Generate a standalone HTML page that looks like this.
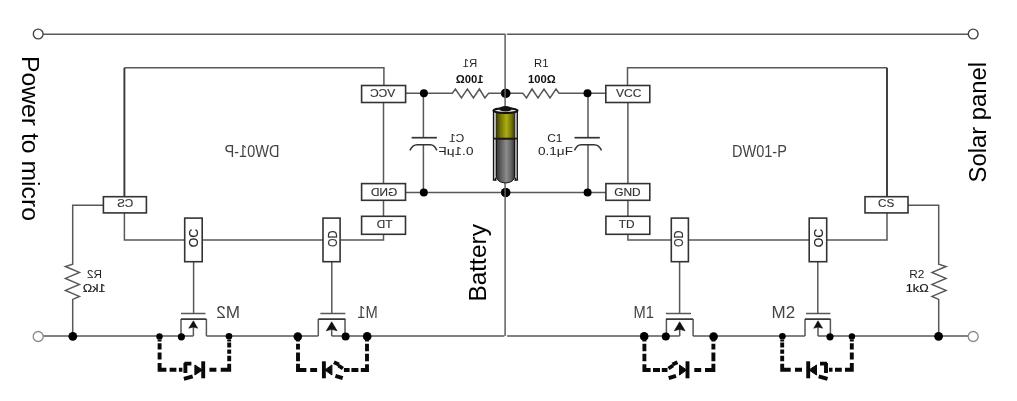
<!DOCTYPE html>
<html><head><meta charset="utf-8">
<style>
html,body{margin:0;padding:0;background:#fff;width:1017px;height:401px;overflow:hidden}
svg{display:block;filter:blur(0.4px)}
text{font-family:"Liberation Sans",sans-serif}
</style></head>
<body>
<svg width="1017" height="401" viewBox="0 0 1017 401">
<defs>
<linearGradient id="gy" x1="0" x2="1" y1="0" y2="0">
<stop offset="0" stop-color="#3e3e00"/>
<stop offset="0.2" stop-color="#6e6e08"/>
<stop offset="0.55" stop-color="#acac14"/>
<stop offset="0.8" stop-color="#7a7a06"/>
<stop offset="1" stop-color="#3e3e00"/>
</linearGradient>
<linearGradient id="gg" x1="0" x2="1" y1="0" y2="0">
<stop offset="0" stop-color="#333"/>
<stop offset="0.25" stop-color="#5e5e5e"/>
<stop offset="0.55" stop-color="#8c8c8c"/>
<stop offset="0.8" stop-color="#666"/>
<stop offset="1" stop-color="#333"/>
</linearGradient>
<g id="half">
<!-- wires -->
<g fill="none" stroke="#585858" stroke-width="1.5">
<path d="M506,34.2H968.2"/>
<path d="M507,335.9H679.7M693.1,335.9H805M818,335.9H968.4"/>
<path d="M627.5,85.5V67.8H887"/>
<path d="M887,213V240H826.7M809.2,240H688.4M671.3,240H627.9V234.3"/>
<path d="M627.9,216.3V200.3M627.9,183.6V102.5"/>
<path d="M505,93.3H522.8L526.5,98L532,89L538,98L544,89L550,98L556,89L559,93.3H605.8"/>
<path d="M505,192.6H605.9"/>
<path d="M588,93.3V137.7M588,144.7V192.6"/>
<path d="M908,205.3H938.7V264.2L946,266.5L932,272.4L946,278.4L932,284.4L946,290.4L932,296.4L938.7,299.4V335.9"/>
<path d="M679.6,261.7V313.4M817.8,261.7V313.4"/>
<path d="M666,313.6H691M806,313.4H830.4"/>
<path d="M666.4,335.9V319.1M693.1,335.9V319.1M679.7,335.9V323M805,335.9V319.1M830.4,335.9V319.1M818,335.9V322"/>
</g>
<path d="M574.5,137.7H599.8" stroke="#333" stroke-width="1.7" fill="none"/>
<path d="M574.5,150.4Q577,144.7 581,144.7H594Q599,144.7 601.5,150.4" stroke="#333" stroke-width="1.5" fill="none"/>
<path d="M666,319.1H693.1M805,319.1H830.4" stroke="#3a3a3a" stroke-width="1.7" fill="none"/>
<path d="M679.7,321.8L674.3,330.8L679.7,329.3L685.1,330.8Z" fill="#111" stroke="#111" stroke-width="0.6" stroke-linejoin="round"/>
<path d="M818,320.8L813.8,328.2L818,327L822.6,328.2Z" fill="#111" stroke="#111" stroke-width="0.6" stroke-linejoin="round"/>
<path d="M887,67.8V196.7" stroke="#383838" stroke-width="1.9" fill="none"/>
<!-- IC boxes -->
<g fill="#fff" stroke="#333" stroke-width="1.6">
<rect x="605.8" y="85.5" width="44" height="17"/>
<rect x="605.9" y="183.6" width="43.9" height="16.7"/>
<rect x="605.9" y="216.3" width="43.9" height="18"/>
<rect x="865" y="196.7" width="43" height="16.2"/>
<rect x="671.3" y="218.1" width="17.1" height="43.6"/>
<rect x="809.2" y="218.1" width="17.5" height="43.6"/>
</g>
<!-- dots -->
<g fill="#000">
<circle cx="505.3" cy="93.3" r="4.5"/>
<circle cx="587.5" cy="93.3" r="4"/>
<circle cx="505.5" cy="192.6" r="4.6"/>
<circle cx="587.6" cy="192.6" r="4"/>
<circle cx="644.2" cy="336.4" r="4.3"/>
<circle cx="665.8" cy="336.4" r="4"/>
<circle cx="713.6" cy="336.6" r="4.3"/>
<circle cx="782.4" cy="336.3" r="3.3"/>
<circle cx="830" cy="336.8" r="3.6"/>
<circle cx="851.9" cy="336.4" r="3.2"/>
<circle cx="938.6" cy="336.3" r="4.4"/>
</g>
<!-- dashed diodes -->
<g fill="none" stroke="#0a0a0a" stroke-width="3.9">
<path d="M644.4,339V341.5M644.4,343.8V351.3M644.4,353.8V361.3M644.4,364.2V370H650.6M653,370H660M661.8,370H667.5"/>
<path d="M713.4,339V341.5M713.4,343.8V349.5M713.4,352.6V361.3M713.4,363.8V370H705M701.2,370H694.3"/>
<path d="M668.5,368.5L673,365.5M672.5,364.6L677.5,362.3M668.7,378.2L676,375.8"/>
<path d="M687.5,361.3V378.3"/>
<path d="M686.5,370L679.5,365V375Z" fill="#0a0a0a" stroke-width="1"/>
<path d="M782.2,339.5V341.4M782.2,342.6V347.6M782.2,349.5V353.8M782.2,355.7V361.3M782.2,363.8V369.8H790.7M795,369.8H802"/>
<path d="M851.8,339.5V341.4M851.8,343.2V349.5M851.8,352.6V359.4M851.8,363V369.8H845M841.8,369.8H835M832.5,369.8H829"/>
<path d="M808.2,361.3V378.3"/>
<path d="M809,370L816.5,365V375Z" fill="#0a0a0a" stroke-width="1"/>
<path d="M820,363.6H827M826,363V373M818.7,376.3L827.5,378.8"/>
</g>
<!-- terminal circles -->
<circle cx="973.2" cy="34" r="4.9" fill="#fff" stroke="#444" stroke-width="1.4"/>
<circle cx="973.2" cy="336.5" r="5" fill="#fff" stroke="#8a8a8a" stroke-width="1.3"/>
<!-- labels -->
<g fill="#222" font-size="11">
<text x="534.1" y="67.4" textLength="14.5" lengthAdjust="spacingAndGlyphs">R1</text>
<text x="528.0" y="82.7" textLength="27.6" lengthAdjust="spacingAndGlyphs" font-weight="bold" fill="#111">100Ω</text>
<text x="547.2" y="142.1" textLength="15.2" lengthAdjust="spacingAndGlyphs">C1</text>
<text x="538.0" y="154.5" textLength="35.0" lengthAdjust="spacingAndGlyphs">0.1μF</text>
<text x="616.1" y="96.9" textLength="25.3" lengthAdjust="spacingAndGlyphs" fill="#333" stroke="#333" stroke-width="0.15">VCC</text>
<text x="614.2" y="196.4" textLength="26.4" lengthAdjust="spacingAndGlyphs" fill="#333" stroke="#333" stroke-width="0.15">GND</text>
<text x="618.8" y="228.4" textLength="15.8" lengthAdjust="spacingAndGlyphs" fill="#333" stroke="#333" stroke-width="0.15">TD</text>
<text x="878.1" y="207.4" textLength="16.2" lengthAdjust="spacingAndGlyphs" fill="#333" stroke="#333" stroke-width="0.15">CS</text>
<text transform="translate(683.4,247) rotate(-90)" textLength="16.5" lengthAdjust="spacingAndGlyphs" fill="#333" font-size="12.5" stroke="#333" stroke-width="0.2">OD</text>
<text transform="translate(822.6,247.3) rotate(-90)" textLength="18.5" lengthAdjust="spacingAndGlyphs" fill="#222" font-size="12.5" stroke="#222" stroke-width="0.2">OC</text>
<text x="909.3" y="278.1" textLength="15.1" lengthAdjust="spacingAndGlyphs">R2</text>
<text x="905.8" y="292.3" textLength="22.9" lengthAdjust="spacingAndGlyphs" fill="#111" stroke="#111" stroke-width="0.15">1kΩ</text>
</g>
<g fill="#444" font-size="16.5">
<text x="731.9" y="157.1" textLength="55" lengthAdjust="spacingAndGlyphs">DW01-P</text>
<text x="633.6" y="318.4" textLength="20.4" lengthAdjust="spacingAndGlyphs">M1</text>
<text x="771.5" y="318.4" textLength="23.6" lengthAdjust="spacingAndGlyphs">M2</text>
</g>
</g>
</defs>
<use href="#half"/>
<use href="#half" transform="translate(1011.4,0) scale(-1,1)"/>
<!-- center line -->
<path d="M505.1,34.2V336" stroke="#5e5e5e" stroke-width="1.5" fill="none"/><rect x="506.2" y="32.5" width="0.9" height="3.5" fill="#fff"/><rect x="506.2" y="334.2" width="0.9" height="3.5" fill="#fff"/>
<!-- battery -->
<g>
<rect x="494" y="111" width="22.8" height="68" fill="#d4d4d4"/><path d="M493.5,111V180M517.3,111V180" stroke="#111" stroke-width="1.3"/>
<rect x="496.4" y="111" width="18.2" height="28" fill="url(#gy)"/>
<path d="M496.3,111V176M514.7,111V176" stroke="#1a1a1a" stroke-width="0.9"/>
<path d="M492.3,180.5Q496.4,179 496.4,173V181ZM518.7,180.5Q514.6,179 514.6,173V181Z" fill="#111"/>
<path d="M496.4,139H514.6V175.5Q514.6,182.5 505.5,183Q496.4,182.5 496.4,175.5Z" fill="url(#gg)" stroke="#111" stroke-width="1"/>
<path d="M493,138.6H518" stroke="#1a1a1a" stroke-width="1.8"/>
<ellipse cx="505.5" cy="110.6" rx="12.1" ry="2.4" fill="#e8e8e8" stroke="#111" stroke-width="2.1"/>
<ellipse cx="505.5" cy="108.8" rx="6.4" ry="2.7" fill="#111"/>
</g>
<!-- big labels -->
<g font-size="23.5" fill="#000">
<text transform="translate(21.9,55.9) rotate(90)" textLength="165" lengthAdjust="spacingAndGlyphs">Power to micro</text>
<text transform="translate(985.9,182.5) rotate(-90)" textLength="120.5" lengthAdjust="spacingAndGlyphs">Solar panel</text>
<text transform="translate(485.9,301.6) rotate(-90)" textLength="77.5" lengthAdjust="spacingAndGlyphs">Battery</text>
</g>
</svg>
</body></html>
